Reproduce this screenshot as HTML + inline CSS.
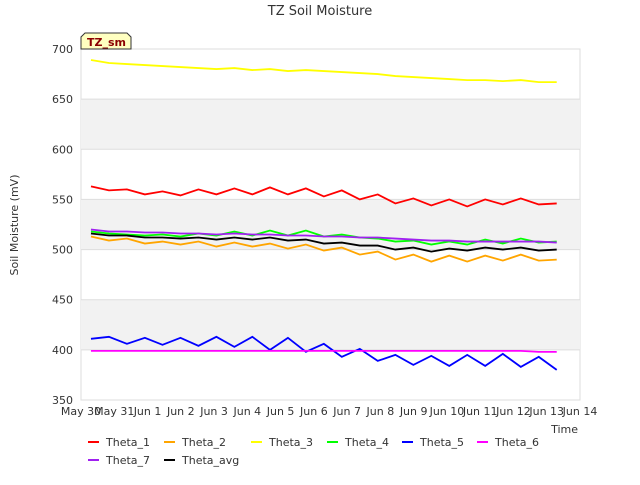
<!DOCTYPE html>
<html><head><meta charset="utf-8"><style>
body{margin:0;background:#fff;}
svg{font-family:"DejaVu Sans","Liberation Sans",sans-serif;}
</style></head><body>
<svg id="c" width="640" height="480" xmlns="http://www.w3.org/2000/svg">
<text x="320" y="15" text-anchor="middle" font-size="13" fill="#333">TZ Soil Moisture</text>
<text transform="translate(18,225) rotate(-90)" text-anchor="middle" font-size="11" fill="#333">Soil Moisture (mV)</text>
<text x="578" y="433" text-anchor="end" font-size="11" fill="#333">Time</text>
<g id="bands"></g><g id="grid"></g><g id="series"></g><g id="ticks"></g>
<g>
<path d="M81,49 L81,37 L85,33 L127,33 L131,37 L131,49 Z" fill="#ffffc0" stroke="#333" stroke-width="1"/>
<text x="87" y="46" font-size="11" font-weight="bold" fill="#8b0000">TZ_sm</text>
</g>
<g id="legend"></g>
</svg>
<script>
const times=[0.3,0.84,1.38,1.92,2.45,2.99,3.53,4.07,4.61,5.15,5.68,6.22,6.76,7.30,7.84,8.38,8.92,9.45,9.99,10.53,11.07,11.61,12.15,12.68,13.22,13.76,14.3];
const theta1=[563,559,560,555,558,554,560,555,561,555,562,555,561,553,559,550,555,546,551,544,550,543,550,545,551,545,546];
const theta2=[513,509,511,506,508,505,508,503,507,503,506,501,505,499,502,495,498,490,495,488,494,488,494,489,495,489,490];
const theta3=[689,686,685,684,683,682,681,680,681,679,680,678,679,678,677,676,675,673,672,671,670,669,669,668,669,667,667];
const theta4=[518,516,515,514,515,513,516,514,518,514,519,514,519,513,515,512,511,508,509,505,508,505,510,506,511,507,508];
const theta5=[411,413,406,412,405,412,404,413,403,413,400,412,398,406,393,401,389,395,385,394,384,395,384,396,383,393,380];
const theta6=[399,399,399,399,399,399,399,399,399,399,399,399,399,399,399,399,399,399,399,399,399,399,399,399,399,398,398];
const theta7=[520,518,518,517,517,516,516,515,516,515,515,514,514,513,513,512,512,511,510,509,509,508,508,508,508,508,507];
const thetaAvg=[516,514,514,512,512,511,512,510,512,510,512,509,510,506,507,504,504,500,502,498,501,499,502,500,502,499,500];
const seriesNames=["Theta_1","Theta_2","Theta_3","Theta_4","Theta_5","Theta_6","Theta_7","Theta_avg"];
const yTicks=[350,400,450,500,550,600,650,700];
const xTickLabels=["May 30","May 31","Jun 1","Jun 2","Jun 3","Jun 4","Jun 5","Jun 6","Jun 7","Jun 8","Jun 9","Jun 10","Jun 11","Jun 12","Jun 13","Jun 14"];
const colors=["#ff0000","#ffa500","#ffff00","#00ff00","#0000ff","#ff00ff","#a020f0","#000000"];
const X0=81,X1=580,Y0=400,Y1=49;
const xs=d=>X0+(X1-X0)*d/15;
const ys=v=>Y0-(Y0-Y1)*(v-350)/350;
const NS="http://www.w3.org/2000/svg";
function mk(tag,parent,attrs){const e=document.createElementNS(NS,tag);for(const k in attrs)e.setAttribute(k,attrs[k]);parent.appendChild(e);return e;}
const bands=document.getElementById('bands'),grid=document.getElementById('grid'),ticks=document.getElementById('ticks'),ser=document.getElementById('series'),leg=document.getElementById('legend');
const bg=mk('rect',bands,{x:X0,y:Y1,width:X1-X0,height:Y0-Y1,fill:'#fff',stroke:'#ddd'});


for(let i=0;i<yTicks.length-1;i++){
  if(i%2===1){const r=mk('rect',bands,{x:X0,y:ys(yTicks[i+1]),width:X1-X0,height:ys(yTicks[i])-ys(yTicks[i+1]),fill:'#f2f2f2'});
  
  }
}
yTicks.forEach(v=>{
  const l=mk('line',grid,{x1:X0,x2:X1,y1:ys(v),y2:ys(v),stroke:'#ddd'});
  
  
  const t=mk('text',ticks,{x:X0-8,y:ys(v)+4,'text-anchor':'end','font-size':11,fill:'#333'});t.textContent=v;
  
  
});
xTickLabels.forEach((s,i)=>{
  const t=mk('text',ticks,{x:xs(i),y:Y0+15,'text-anchor':'middle','font-size':11,fill:'#333'});t.textContent=s;
  
  
});
[theta1,theta2,theta3,theta4,theta5,theta6,theta7,thetaAvg].forEach((arr,k)=>{
  const p=mk('polyline',ser,{points:arr.map((v,i)=>xs(times[i])+','+ys(v)).join(' '),fill:'none',stroke:colors[k],'stroke-width':1.8});
  
  
});
const lx=[88,164,251,327,402,477,88,164],ly=[442,442,442,442,442,442,460,460];
seriesNames.forEach((n,k)=>{
  const g=mk('g',leg,{});
  
  
  mk('line',g,{x1:lx[k],x2:lx[k]+11,y1:ly[k],y2:ly[k],stroke:colors[k],'stroke-width':2});
  const t=mk('text',g,{x:lx[k]+18,y:ly[k]+4,'font-size':11,fill:'#333'});t.textContent=n;
});
</script>
</body></html>
